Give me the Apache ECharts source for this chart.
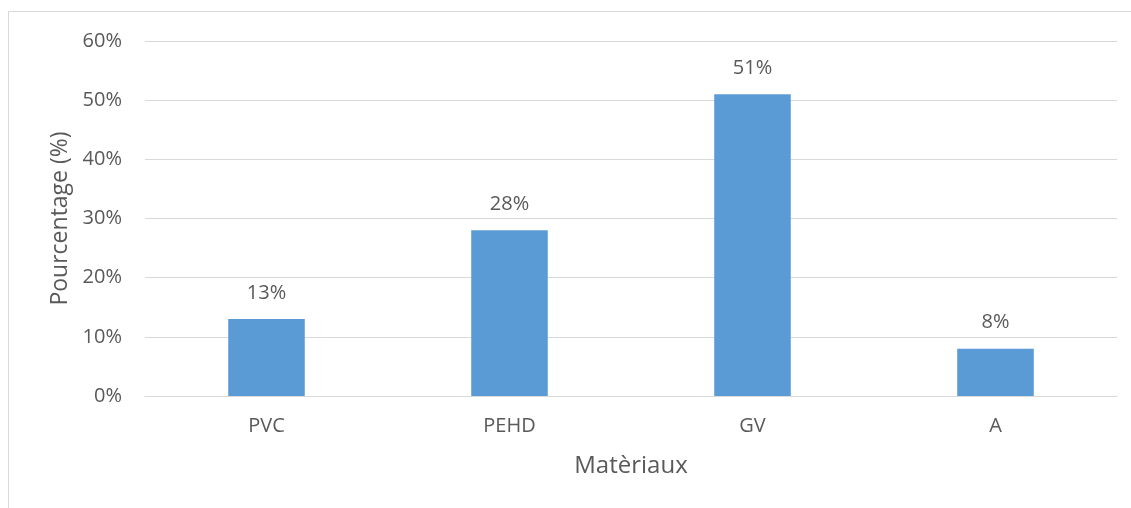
<!DOCTYPE html>
<html>
<head>
<meta charset="utf-8">
<script src="https://cdn.jsdelivr.net/npm/echarts@6/dist/echarts.min.js"></script>
<style>
  html, body { margin: 0; padding: 0; background: #fff; }
  #chart { width: 1131px; height: 508px; }
</style>
</head>
<body>
<div id="chart"></div>
<script>
// Material categories and their share (%)
const categories = ['PVC', 'PEHD', 'GV', 'A'];
const percentages = [13, 28, 51, 8];
const yTicks = [0, 10, 20, 30, 40, 50, 60];

const textColor = '#595959';
const fontFamily = '"Open Sans", "Noto Sans", sans-serif';

const chart = echarts.init(document.getElementById('chart'), null, { renderer: 'canvas' });

chart.setOption({
  backgroundColor: '#ffffff',
  animation: false,
  graphic: [{
    type: 'rect',
    silent: true,
    shape: { x: 8.5, y: 11.5, width: 1200, height: 600 },
    style: { fill: 'none', stroke: '#d9d9d9', lineWidth: 1 }
  }],
  grid: { left: 145, right: 14, top: 41, bottom: 112, containLabel: false },
  xAxis: {
    type: 'category',
    data: categories,
    name: 'Matèriaux',
    nameLocation: 'middle',
    nameGap: 58,
    nameTextStyle: { color: textColor, fontSize: 24, fontFamily },
    axisLine: { show: true, lineStyle: { color: '#d9d9d9', width: 1 } },
    axisTick: { show: false },
    axisLabel: { color: textColor, fontSize: 20, fontFamily, margin: 20 }
  },
  yAxis: {
    type: 'value',
    min: yTicks[0],
    max: yTicks[yTicks.length - 1],
    interval: 10,
    name: 'Pourcentage (%)',
    nameLocation: 'middle',
    nameGap: 73,
    nameRotate: 90,
    nameTextStyle: { color: textColor, fontSize: 23, fontFamily },
    axisLine: { show: false },
    axisTick: { show: false },
    splitLine: { lineStyle: { color: '#d9d9d9', width: 1 } },
    axisLabel: {
      color: textColor, fontSize: 20, fontFamily, margin: 23,
      formatter: v => v + '%'
    }
  },
  series: [{
    type: 'bar',
    data: percentages,
    barWidth: '31.5%',
    itemStyle: { color: '#5b9bd5' },
    label: {
      show: true,
      position: 'top',
      distance: 16,
      color: textColor,
      fontSize: 20,
      fontFamily,
      formatter: p => p.value + '%'
    }
  }]
});
</script>
</body>
</html>
